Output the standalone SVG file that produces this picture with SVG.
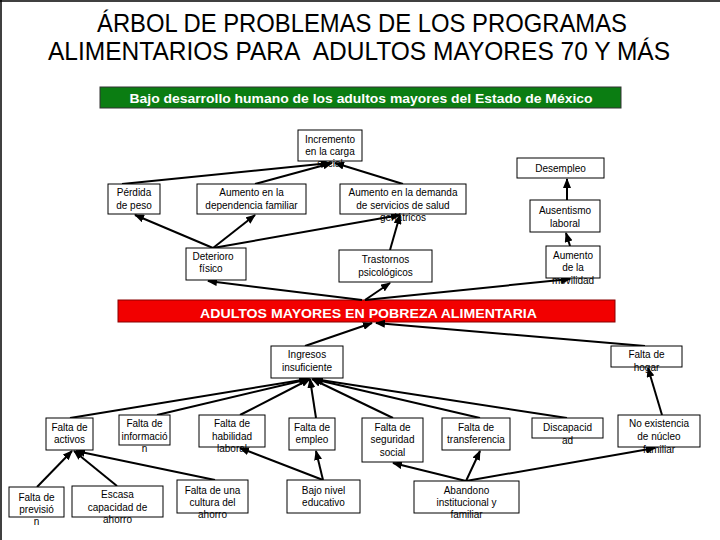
<svg xmlns="http://www.w3.org/2000/svg" width="720" height="540" viewBox="0 0 720 540">
<style>
.box{fill:#fff;stroke:#000;stroke-width:1}
.t{font-family:"Liberation Sans",Arial,sans-serif;font-size:10px;fill:#000;text-anchor:middle}
.title{font-family:"Liberation Sans",Arial,sans-serif;font-size:25px;fill:#000;text-anchor:middle}
.ban{font-family:"Liberation Sans",Arial,sans-serif;font-weight:bold;font-size:13px;fill:#fff;text-anchor:middle}
.c line{stroke:#000;stroke-width:2;marker-end:url(#ah)}
</style>
<defs>
<marker id="ah" markerUnits="userSpaceOnUse" markerWidth="10" markerHeight="8" refX="9" refY="4" orient="auto">
<path d="M0,0 L10,4 L0,8 z" fill="#000"/>
</marker>
</defs>
<rect x="0" y="0" width="720" height="540" fill="#fff"/>
<line x1="1" y1="0" x2="1" y2="540" stroke="#000" stroke-width="1.5"/>
<line x1="0" y1="1" x2="720" y2="1" stroke="#000" stroke-width="1.5"/>
<g id="title">
<text class="title" x="362" y="32" textLength="530" lengthAdjust="spacingAndGlyphs">ÁRBOL DE PROBLEMAS DE LOS PROGRAMAS</text>
<text class="title" x="359" y="60" textLength="622" lengthAdjust="spacingAndGlyphs">ALIMENTARIOS PARA &#160;ADULTOS MAYORES 70 Y MÁS</text>
</g>
<g id="efecto">
<rect x="100" y="87" width="521" height="21" fill="#0b7d12" stroke="#333" stroke-width="1"/>
<text class="ban" x="361" y="103" textLength="463" lengthAdjust="spacingAndGlyphs">Bajo desarrollo humano de los adultos mayores del Estado de México</text>
</g>
<g id="problema">
<rect x="118" y="300" width="497" height="22" fill="#f20000" stroke="#800" stroke-width="1"/>
<text class="ban" x="368.5" y="318" font-size="12.5" textLength="337" lengthAdjust="spacingAndGlyphs">ADULTOS MAYORES EN POBREZA ALIMENTARIA</text>
</g>
<g class="c" id="connectors">
<line x1="122" y1="184" x2="330" y2="163"/>
<line x1="255" y1="184" x2="332" y2="163"/>
<line x1="403" y1="184" x2="335" y2="163"/>
<line x1="567" y1="200" x2="567" y2="179"/>
<line x1="213" y1="248" x2="135" y2="215"/>
<line x1="213" y1="248" x2="255" y2="215"/>
<line x1="213" y1="248" x2="400" y2="215"/>
<line x1="390" y1="250" x2="400" y2="215"/>
<line x1="570" y1="246" x2="566" y2="233"/>
<line x1="362" y1="300" x2="208" y2="281"/>
<line x1="365" y1="300" x2="390" y2="283"/>
<line x1="365" y1="300" x2="570" y2="279"/>
<line x1="305" y1="346" x2="372" y2="323"/>
<line x1="645" y1="346" x2="376" y2="323"/>
<line x1="662" y1="415" x2="648" y2="368"/>
<line x1="70" y1="418" x2="308" y2="379"/>
<line x1="157" y1="415" x2="309" y2="379"/>
<line x1="240" y1="415" x2="310" y2="379"/>
<line x1="316" y1="418" x2="310" y2="379"/>
<line x1="393" y1="418" x2="312" y2="379"/>
<line x1="480" y1="418" x2="313" y2="379"/>
<line x1="567" y1="418" x2="314" y2="379"/>
<line x1="37" y1="487" x2="72" y2="451"/>
<line x1="117" y1="486" x2="74" y2="451"/>
<line x1="215" y1="480" x2="76" y2="451"/>
<line x1="323" y1="480" x2="240" y2="448"/>
<line x1="323" y1="480" x2="316" y2="451"/>
<line x1="466" y1="481" x2="393" y2="463"/>
<line x1="466" y1="481" x2="480" y2="451"/>
<line x1="466" y1="481" x2="655" y2="448"/>
</g>
<g id="incremento"><rect class="box" x="298" y="130" width="64" height="31"/><text class="t" x="330" y="143">Incremento</text><text class="t" x="330" y="155">en la carga</text><text class="t" x="330" y="167">social</text></g>
<g id="desempleo"><rect class="box" x="517" y="158" width="87" height="20"/><text class="t" x="560.5" y="172">Desempleo</text></g>
<g id="perdida"><rect class="box" x="108" y="184" width="52" height="30"/><text class="t" x="134" y="196">Pérdida</text><text class="t" x="134" y="209">de peso</text></g>
<g id="dependencia"><rect class="box" x="197" y="184" width="109" height="30"/><text class="t" x="251.5" y="196">Aumento en la</text><text class="t" x="251.5" y="209">dependencia familiar</text></g>
<g id="demanda"><rect class="box" x="340" y="184" width="126" height="30"/><text class="t" x="403" y="196">Aumento en la demanda</text><text class="t" x="403" y="209">de servicios de salud</text><text class="t" x="403" y="221">geriátricos</text></g>
<g id="ausentismo"><rect class="box" x="530" y="200" width="70" height="32"/><text class="t" x="565" y="214">Ausentismo</text><text class="t" x="565" y="227">laboral</text></g>
<g id="deterioro"><rect class="box" x="186" y="248" width="60" height="32"/><text class="t" x="213" y="260">Deterioro</text><text class="t" x="211" y="272">físico</text></g>
<g id="trastornos"><rect class="box" x="339" y="250" width="93" height="32"/><text class="t" x="385.5" y="263">Trastornos</text><text class="t" x="385.5" y="276">psicológicos</text></g>
<g id="movilidad"><rect class="box" x="546" y="246" width="54" height="32"/><text class="t" x="573" y="259">Aumento</text><text class="t" x="573" y="271">de la</text><text class="t" x="573" y="284">movilidad</text></g>
<g id="ingresos"><rect class="box" x="271" y="346" width="72" height="32"/><text class="t" x="307" y="358">Ingresos</text><text class="t" x="307" y="371">insuficiente</text></g>
<g id="hogar"><rect class="box" x="611" y="346" width="71" height="21"/><text class="t" x="646.5" y="358">Falta de</text><text class="t" x="646.5" y="371">hogar</text></g>
<g id="activos"><rect class="box" x="46" y="418" width="47" height="32"/><text class="t" x="69.5" y="431">Falta de</text><text class="t" x="69.5" y="443">activos</text></g>
<g id="informacion"><rect class="box" x="119" y="415" width="51" height="30"/><text class="t" x="144.5" y="427">Falta de</text><text class="t" x="144.5" y="440">informació</text><text class="t" x="144.5" y="452">n</text></g>
<g id="habilidad"><rect class="box" x="199" y="415" width="66" height="32"/><text class="t" x="232" y="427">Falta de</text><text class="t" x="232" y="440">habilidad</text><text class="t" x="232" y="452">laboral</text></g>
<g id="empleo"><rect class="box" x="289" y="418" width="46" height="32"/><text class="t" x="312" y="431">Falta de</text><text class="t" x="312" y="443">empleo</text></g>
<g id="seguridad"><rect class="box" x="362" y="418" width="61" height="44"/><text class="t" x="392.5" y="431">Falta de</text><text class="t" x="392.5" y="443">seguridad</text><text class="t" x="392.5" y="456">social</text></g>
<g id="transferencia"><rect class="box" x="442" y="418" width="68" height="32"/><text class="t" x="476" y="431">Falta de</text><text class="t" x="476" y="443">transferencia</text></g>
<g id="discapacidad"><rect class="box" x="532" y="418" width="71" height="20"/><text class="t" x="567.5" y="431">Discapacid</text><text class="t" x="567.5" y="444">ad</text></g>
<g id="nucleo"><rect class="box" x="618" y="415" width="82" height="32"/><text class="t" x="659" y="427">No existencia</text><text class="t" x="659" y="440">de núcleo</text><text class="t" x="659" y="453">familiar</text></g>
<g id="prevision"><rect class="box" x="9" y="487" width="55" height="30"/><text class="t" x="36.5" y="501">Falta de</text><text class="t" x="36.5" y="513">previsió</text><text class="t" x="36.5" y="525">n</text></g>
<g id="escasa"><rect class="box" x="72" y="486" width="91" height="31"/><text class="t" x="117.5" y="498">Escasa</text><text class="t" x="117.5" y="511">capacidad de</text><text class="t" x="117.5" y="523">ahorro</text></g>
<g id="cultura"><rect class="box" x="177" y="480" width="71" height="33"/><text class="t" x="212.5" y="494">Falta de una</text><text class="t" x="212.5" y="506">cultura del</text><text class="t" x="212.5" y="518">ahorro</text></g>
<g id="bajonivel"><rect class="box" x="287" y="480" width="73" height="33"/><text class="t" x="323.5" y="494">Bajo nivel</text><text class="t" x="323.5" y="506">educativo</text></g>
<g id="abandono"><rect class="box" x="414" y="481" width="105" height="32"/><text class="t" x="466.5" y="494">Abandono</text><text class="t" x="466.5" y="506">institucional y</text><text class="t" x="466.5" y="518">familiar</text></g>
</svg>
